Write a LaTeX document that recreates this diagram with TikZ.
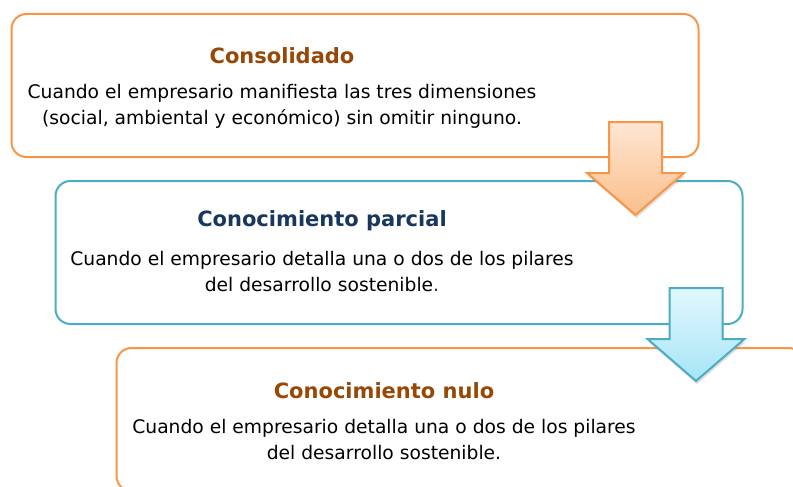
\documentclass[tikz,border=0pt]{standalone}
\usepackage{fontspec}
\setmainfont{DejaVu Sans}
\usetikzlibrary{positioning,shadows}

\definecolor{OrangeLine}{HTML}{F79646}
\definecolor{BlueLine}{HTML}{4BACC6}
\definecolor{BrownTitle}{HTML}{984806}
\definecolor{NavyTitle}{HTML}{17375E}
\definecolor{OrangeTop}{HTML}{FDE6D3}
\definecolor{OrangeBottom}{HTML}{FBBE8A}
\definecolor{BlueTop}{HTML}{E2F7FD}
\definecolor{BlueBottom}{HTML}{A6E5F7}

\tikzset{
  stagebox/.style={draw=#1, line width=2pt, rounded corners=15pt, fill=white,
    minimum width=687pt, minimum height=143pt, inner sep=0pt},
  stagetitle/.style={font=\fontsize{21}{24}\selectfont\bfseries, text=#1},
  stagetext/.style={font=\fontsize{18.7}{25.5}\selectfont, align=center, inner sep=0pt},
  orangearrow/.style={draw=OrangeLine, line width=2pt, top color=OrangeTop,
    bottom color=OrangeBottom, drop shadow={opacity=0.25, shadow xshift=1pt, shadow yshift=-3pt}},
  bluearrow/.style={draw=BlueLine, line width=2pt, top color=BlueTop,
    bottom color=BlueBottom, drop shadow={opacity=0.25, shadow xshift=1pt, shadow yshift=-3pt}}
}

% block arrow pointing down, hanging from a named coordinate
\newcommand{\downblock}[2]{%
  \draw[#2] (#1) ++(-26.5,0) -- ++(53,0) -- ++(0,51) -- ++(22,0)
    -- ++(-48.5,42) -- ++(-48.5,-42) -- ++(22,0) -- cycle;}

\begin{document}
\begin{tikzpicture}[x=1pt, y=-1pt]

\clip (0,0) rectangle (793,487);
\fill[white] (0,0) rectangle (793,487);

%%% BOXES %%%
\node[stagebox=OrangeLine] (consolidado) at (355,85.5) {};
\node[stagebox=BlueLine] (parcial) at (399,252.5) {};
\node[stagebox=OrangeLine] (nulo) at (460,419.5) {};

%%% TEXTS %%%
\node[stagetitle=BrownTitle] (t1) at (282,55.5) {Consolidado};
\node[stagetext, below=17pt of t1] (d1)
  {Cuando el empresario manifiesta las tres dimensiones\\
   (social, ambiental y económico) sin omitir ninguno.};

\node[stagetitle=NavyTitle] (t2) at (322,220.5) {Conocimiento parcial};
\node[stagetext, below=17pt of t2] (d2)
  {Cuando el empresario detalla una o dos de los pilares\\
   del desarrollo sostenible{\color{NavyTitle}.}};

\node[stagetitle=BrownTitle] (t3) at (384,390.5) {Conocimiento nulo};
\node[stagetext, below=17pt of t3] (d3)
  {Cuando el empresario detalla una o dos de los pilares\\
   del desarrollo sostenible.};

%%% ARROWS %%%
\coordinate (a1) at (635.5,122);
\coordinate (a2) at (696,288);
\downblock{a1}{orangearrow}
\downblock{a2}{bluearrow}

\end{tikzpicture}
\end{document}
